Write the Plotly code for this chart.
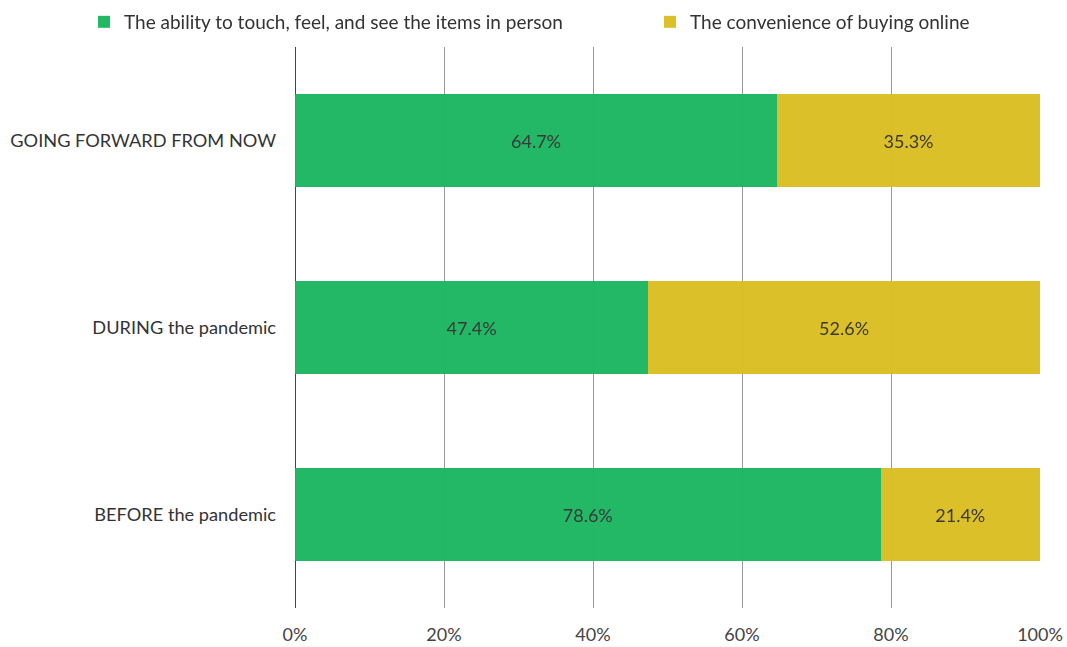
import plotly.graph_objects as go

categories = ["BEFORE the pandemic", "DURING the pandemic", "GOING FORWARD FROM NOW"]
in_person = [78.6, 47.4, 64.7]
online = [21.4, 52.6, 35.3]
series_names = ["The ability to touch, feel, and see the items in person",
                "The convenience of buying online"]
tick_vals = [0, 20, 40, 60, 80, 100]
tick_text = ["0%", "20%", "40%", "60%", "80%", "100%"]

FONT = "Lato, 'Open Sans', sans-serif"

fig = go.Figure()
for name, vals, color, leg in [(series_names[0], in_person, "#1bb661", "legend"),
                               (series_names[1], online, "#dbbe24", "legend2")]:
    fig.add_trace(go.Bar(
        y=categories, x=vals, name=name, orientation="h", legend=leg,
        marker=dict(color=color, line=dict(width=0)), opacity=0.97,
        text=[f"{v:.1f}%" for v in vals], textposition="inside",
        insidetextanchor="middle",
        textfont=dict(color="#333333", size=18, family=FONT),
        hoverinfo="skip",
    ))

legend_common = dict(orientation="h", xref="container", yref="container",
                     xanchor="left", yanchor="top", y=0.9954,
                     font=dict(size=19, color="#333333"),
                     bgcolor="rgba(0,0,0,0)")

fig.update_layout(
    barmode="stack", bargap=0.5,
    width=1067, height=647,
    margin=dict(l=295, r=27, t=47, b=39, autoexpand=False),
    paper_bgcolor="white", plot_bgcolor="white",
    font=dict(family=FONT, color="#333333", size=17),
    showlegend=True,
    legend=dict(x=0.0787, **legend_common),
    legend2=dict(x=0.6092, **legend_common),
    xaxis=dict(range=[0, 100], tickvals=tick_vals, ticktext=tick_text,
               showgrid=True, gridcolor="#9a9a9a", gridwidth=1,
               zeroline=True, zerolinecolor="#444444", zerolinewidth=1,
               showline=False, ticks="", ticklabelstandoff=14, automargin=False,
               tickfont=dict(size=18, color="#444444")),
    yaxis=dict(categoryorder="array", categoryarray=categories, automargin=False,
               showgrid=False, zeroline=False, showline=False, ticks="",
               ticklabelstandoff=18, tickfont=dict(size=18.2, color="#333333")),
)

fig.write_html("out.html", config={"displayModeBar": False},
               post_script="document.body.style.margin='0';document.body.style.overflow='hidden';")
